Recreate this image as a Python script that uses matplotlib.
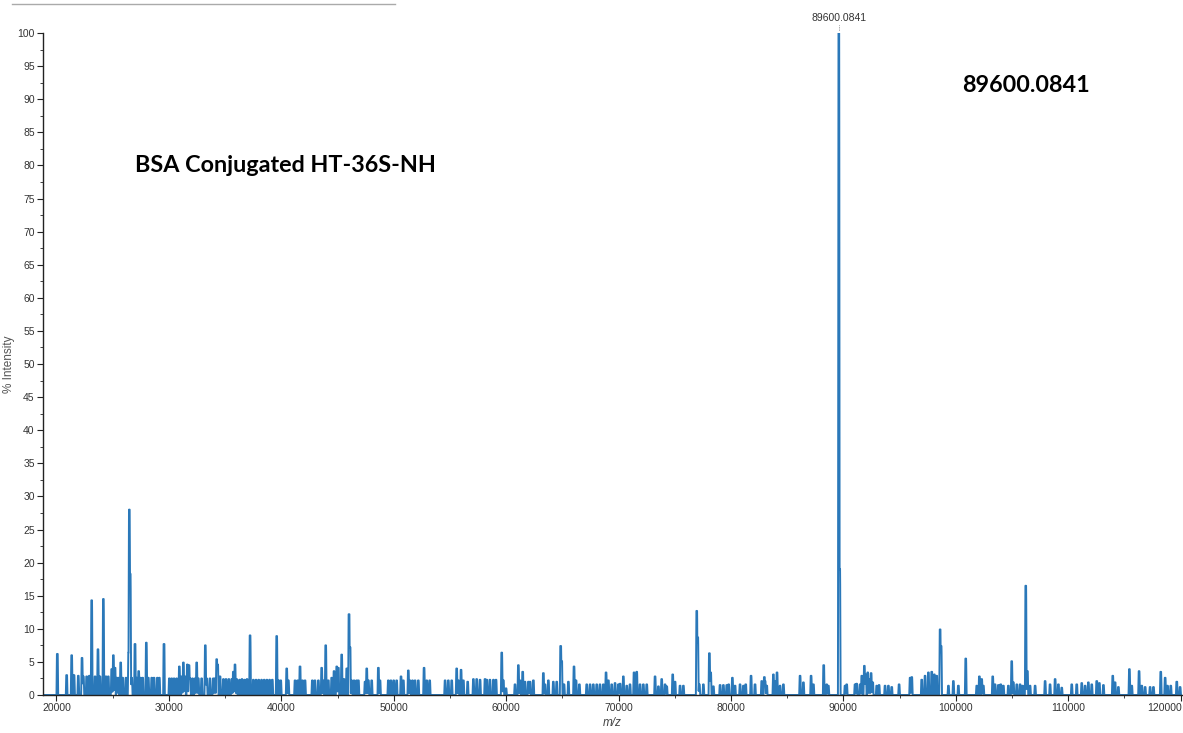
import numpy as np
import matplotlib.pyplot as plt
from matplotlib.ticker import MultipleLocator

# centroid list of the deconvoluted spectrum: m/z and % intensity
mz = [
    20075, 20905, 21350, 21560, 21940, 22270, 22390, 22685, 22920, 23130,
    23430, 23690, 23870, 24170, 24405, 24610, 24910, 25060, 25205, 25355,
    25500, 25710, 25890, 26185, 26420, 26480, 26560, 26690, 26985, 27135,
    27310, 27490, 27670, 27990, 28170, 28470, 28675, 28970, 29150, 29565,
    30040, 30250, 30460, 30690, 30930, 31140, 31290, 31435, 31640, 31790,
    31880, 32100, 32320, 32470, 32620, 32910, 33240, 33360, 33650, 33950,
    34100, 34250, 34340, 34550, 34850, 35080, 35330, 35590, 35735, 35880,
    36030, 36280, 36500, 36730, 36950, 37220, 37510, 37750, 37990, 38240,
    38480, 38720, 38960, 39200, 39590, 39750, 39950, 40480, 40630, 41220,
    41450, 41665, 41890, 42110, 42760, 42990, 43300, 43590, 43740, 43950,
    44185, 44480, 44690, 44930, 45075, 45370, 45580, 45820, 46025, 46115,
    46260, 46470, 46700, 46860, 47450, 47600, 47750, 48040, 48635, 48780,
    49520, 49750, 50000, 50260, 50650, 50860, 51300, 51450, 51670, 51900,
    52190, 52700, 52940, 53200, 54570, 54860, 55160, 55600, 55750, 55990,
    56200, 56580, 57090, 57380, 57680, 58125, 58280, 58560, 58870, 59100,
    59610, 59755, 59990, 60790, 61090, 61240, 61475, 61680, 61980, 62130,
    62425, 63315, 63460, 63760, 64200, 64500, 64855, 64945, 65150, 65540,
    66040, 66220, 66520, 67170, 67470, 67760, 68060, 68350, 68650, 68890,
    69100, 69390, 69690, 69990, 70140, 70430, 70730, 71020, 71380, 71620,
    71915, 72210, 72510, 73250, 73550, 73840, 74140, 74290, 74820, 75030,
    75475, 75770, 76960, 77050, 77190, 77550, 78085, 78200, 78440, 79035,
    79330, 79630, 79800, 80130, 80365, 80810, 81110, 81315, 81790, 82145,
    82740, 82975, 83040, 83185, 83776, 83925, 84100, 84370, 84670, 86150,
    86450, 87130, 87340, 88255, 88520, 88670, 89600, 89680, 90150, 90300,
    91040, 91190, 91490, 91640, 91870, 91990, 92170, 92320, 92470, 92615,
    92970, 93180, 93710, 94010, 94305, 94960, 95940, 96090, 96975, 97270,
    97570, 97865, 98100, 98310, 98610, 98700, 99350, 99790, 100235, 100890,
    101870, 102105, 102310, 102460, 103290, 103500, 103795, 104005, 104240, 104685,
    104980, 105130, 105430, 105725, 105960, 106230, 106375, 106610, 107060, 107950,
    108390, 108840, 109135, 109430, 110320, 110765, 111210, 111510, 111800, 112100,
    112545, 112780, 113140, 113970, 114175, 114470, 115450, 115660, 116310, 116550,
    116850, 117290, 117590, 118240, 118630, 118840, 119130, 119665, 119960,
]
intensity = [
    6.2, 3.0, 6.0, 3.0, 2.9, 5.6, 2.8, 2.8, 2.9, 14.3,
    2.8, 6.9, 2.8, 14.5, 2.8, 2.8, 3.9, 6.0, 4.1, 2.6,
    2.6, 4.9, 2.6, 2.6, 6.4, 28.0, 18.3, 2.6, 7.7, 2.6,
    3.6, 2.6, 2.6, 7.9, 2.6, 2.6, 2.6, 2.6, 2.6, 7.7,
    2.5, 2.5, 2.5, 2.5, 4.3, 2.8, 4.9, 2.8, 4.6, 4.5,
    2.5, 2.5, 2.5, 4.9, 2.5, 2.5, 7.5, 2.5, 2.5, 2.5,
    2.5, 5.4, 4.6, 2.8, 2.4, 2.4, 2.4, 2.4, 3.5, 4.6,
    2.4, 2.3, 2.4, 2.3, 2.4, 9.0, 2.3, 2.3, 2.3, 2.3,
    2.3, 2.3, 2.3, 2.3, 8.9, 2.2, 2.2, 4.0, 2.2, 2.2,
    2.2, 4.3, 2.2, 2.2, 2.2, 2.2, 2.2, 4.1, 2.2, 7.5,
    2.2, 2.6, 3.6, 4.3, 4.1, 6.1, 2.4, 4.0, 12.2, 7.2,
    2.2, 2.2, 2.2, 2.2, 2.0, 4.0, 2.2, 2.2, 4.1, 2.2,
    2.2, 2.2, 2.2, 2.2, 2.8, 2.2, 3.7, 2.2, 2.2, 2.2,
    2.2, 4.1, 2.2, 2.2, 2.2, 2.2, 2.2, 4.0, 2.2, 3.8,
    2.2, 2.0, 2.4, 2.4, 2.3, 2.4, 2.3, 2.3, 2.3, 2.3,
    6.4, 2.2, 1.0, 1.6, 4.5, 2.2, 3.5, 2.0, 2.0, 2.0,
    2.2, 3.3, 1.6, 2.2, 2.0, 2.0, 7.4, 5.1, 1.6, 2.0,
    4.3, 2.2, 1.6, 1.6, 1.6, 1.6, 1.6, 1.6, 1.6, 3.4,
    2.2, 1.6, 1.8, 1.6, 1.7, 2.8, 1.4, 1.6, 3.4, 3.5,
    1.6, 1.6, 1.6, 2.8, 1.3, 2.4, 1.6, 1.3, 3.1, 2.0,
    1.4, 1.4, 12.7, 8.7, 1.6, 1.6, 6.3, 3.4, 1.3, 1.5,
    1.5, 1.5, 1.6, 2.6, 1.4, 1.6, 1.4, 1.6, 2.9, 1.6,
    2.1, 2.7, 2.1, 1.4, 3.1, 2.1, 3.4, 1.4, 1.6, 2.9,
    1.9, 2.9, 1.6, 4.5, 1.6, 1.4, 100.0, 19.0, 1.4, 1.6,
    1.6, 1.7, 1.6, 2.9, 4.4, 3.1, 3.4, 2.4, 3.3, 1.9,
    1.4, 1.5, 1.4, 1.4, 1.2, 1.6, 2.6, 2.7, 2.3, 2.9,
    3.4, 3.5, 3.1, 2.9, 9.9, 7.4, 1.4, 2.1, 1.4, 5.5,
    1.4, 2.8, 2.4, 1.4, 2.8, 1.6, 1.5, 1.6, 1.4, 1.4,
    5.1, 1.9, 1.6, 1.6, 1.4, 16.5, 3.6, 1.4, 1.4, 2.1,
    1.6, 2.4, 1.6, 1.1, 1.6, 1.6, 1.8, 1.4, 1.9, 1.6,
    2.1, 1.8, 1.5, 2.9, 1.9, 1.2, 3.9, 1.4, 3.6, 1.4,
    1.2, 1.2, 1.2, 3.5, 2.6, 1.4, 1.4, 2.0, 1.2,
]
x_ticks = [20000, 30000, 40000, 50000, 60000, 70000, 80000, 90000, 100000, 110000, 120000]
base_peak_mz = 89600.0841

# rebuild a profile trace from the centroids
grid = np.arange(18800, 120200, 10.0)
profile = np.zeros_like(grid)
for c, h in zip(mz, intensity):
    shape = np.clip((75 - np.abs(grid - c)) / 40.0, 0, 1)
    profile = np.maximum(profile, h * shape)

tick_font = ['Liberation Sans', 'DejaVu Sans']

fig = plt.figure(figsize=(11.83, 7.33), dpi=100)
ax = fig.add_axes([43 / 1183, 1 - 695 / 733, 1139 / 1183, 662 / 733])
ax.plot(grid, profile, color='#2a78b9', lw=1.4)

ax.set_xlim(18800, 120130)
ax.set_ylim(0, 100)
ax.spines['top'].set_visible(False)
ax.spines['right'].set_visible(False)
for s in ['left', 'bottom']:
    ax.spines[s].set_color('#222222')
    ax.spines[s].set_linewidth(1.0)

ax.xaxis.set_minor_locator(MultipleLocator(5000))
ax.yaxis.set_major_locator(MultipleLocator(5))
ax.yaxis.set_minor_locator(MultipleLocator(2.5))
ax.tick_params(which='major', length=4, width=0.8, color='#222222', pad=2,
               labelsize=7.5, labelcolor='#333333')
ax.tick_params(which='minor', length=2, width=0.6, color='#222222')
# the last label would run off the right edge, so it is hung to the left
ax.set_xticks(x_ticks, [str(t) for t in x_ticks[:-1]] + [''])
ax.text(1.0, -0.0126, str(x_ticks[-1]), transform=ax.transAxes, ha='right',
        va='top', fontsize=7.5, family=tick_font, color='#333333')
for lab in ax.get_xticklabels() + ax.get_yticklabels():
    lab.set_family(tick_font)

ax.set_xlabel('m/z', fontsize=8.5, style='italic', color='#444444',
              family=tick_font, labelpad=3)
ax.set_ylabel('% Intensity', fontsize=8.5, color='#555555', family=tick_font)
ax.yaxis.set_label_coords(-0.0246, 0.5)

# base peak label above the plot
ax.annotate(f'{base_peak_mz:.4f}', xy=(base_peak_mz, 100), xytext=(0, 7),
            textcoords='offset points', ha='center', va='bottom', fontsize=7.5,
            family=tick_font, color='#333333', annotation_clip=False)
ax.plot([base_peak_mz, base_peak_mz], [100.4, 101.2], color='#555555', lw=0.6,
        ls=':', clip_on=False)

fig.text(135 / 1183, 1 - 165 / 733, 'BSA Conjugated HT-36S-NH', fontsize=16.8,
         fontweight='bold', family='Lato', va='center', ha='left')
fig.text(962 / 1183, 1 - 85 / 733, '89600.0841', fontsize=16.8,
         fontweight='bold', family='Lato', va='center', ha='left')

# header strip at the very top
fig.add_artist(plt.Line2D([12 / 1183, 395 / 1183], [1 - 4 / 733, 1 - 4 / 733],
                          color='#aaaaaa', lw=1.0))

fig.savefig('out.png', dpi=100)
